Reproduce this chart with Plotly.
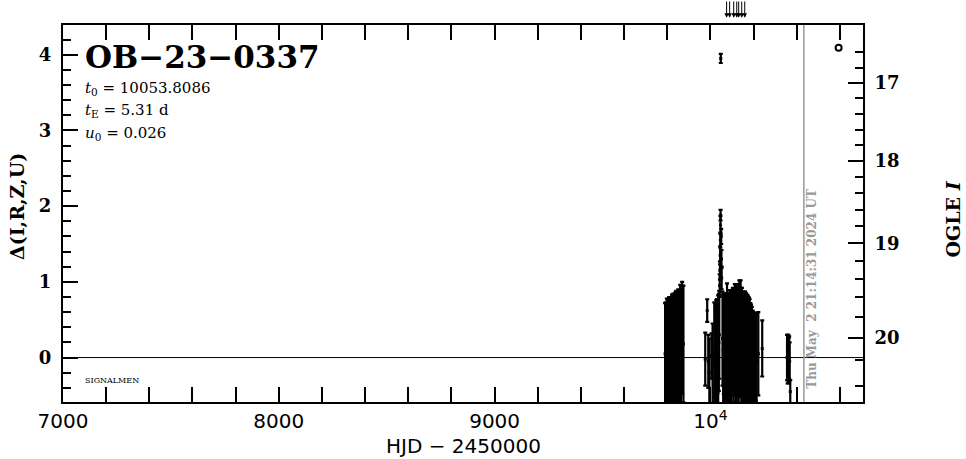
import numpy as np
import plotly.graph_objects as go

# ---------------- data ----------------
# season 2022 (cluster 1)
c1_hjd = [9790, 9793, 9795, 9798, 9801, 9803, 9806, 9809, 9811, 9814, 9817, 9819, 9822, 9825, 9827,
          9830, 9833, 9835, 9838, 9841, 9843, 9846, 9849, 9851, 9854, 9857, 9860, 9864, 9869, 9875]
c1_d = [0.05, 0.02, 0.08, 0.05, 0.10, 0.00, 0.06, 0.12, 0.02, 0.08, 0.14, 0.04, 0.10, 0.06, 0.16,
        0.03, 0.10, 0.18, 0.06, 0.12, 0.02, 0.14, 0.08, 0.20, 0.10, 0.06, 0.22, 0.16, 0.26, 0.18]
c1_e = [0.67, 0.71, 0.64, 0.73, 0.67, 0.74, 0.72, 0.68, 0.78, 0.70, 0.66, 0.76, 0.73, 0.74, 0.68,
        0.77, 0.74, 0.67, 0.80, 0.76, 0.81, 0.72, 0.78, 0.70, 0.77, 0.82, 0.74, 0.78, 0.74, 0.77]

# season 2023 (cluster 2, baseline)
c2_hjd = [9976, 9985, 9990, 9995, 10005, 10010, 10018, 10021, 10024, 10027, 10030, 10033, 10036, 10039, 10041,
          10056, 10059, 10062, 10065, 10068, 10071, 10074, 10077, 10080, 10083, 10086, 10089, 10092, 10095,
          10098, 10101, 10104, 10107, 10110, 10113, 10116, 10119, 10122, 10125, 10128, 10131, 10134, 10137,
          10140, 10143, 10146, 10149, 10152, 10155, 10158, 10161, 10164, 10167, 10170, 10173, 10176, 10179,
          10182, 10185, 10188, 10192, 10196, 10200, 10205, 10210, 10214, 10222, 10240]
c2_d = [-0.02, 0.62, -0.05, -0.20, 0.02, -0.10, 0.05, 0.10, 0.00, 0.12, 0.05, 0.15, 0.08, 0.20, 0.30,
        0.25, 0.10, 0.18, 0.05, 0.20, 0.10, 0.15, 0.30, 0.08, 0.20, 0.12, 0.25, 0.05, 0.18,
        0.10, 0.22, 0.30, 0.12, 0.20, 0.35, 0.15, 0.25, 0.10, 0.20, 0.30, 0.12, 0.35, 0.20,
        0.40, 0.15, 0.25, 0.10, 0.20, 0.08, 0.15, 0.25, 0.05, 0.12, 0.18, 0.10, 0.02, 0.15,
        0.05, 0.10, 0.00, 0.05, -0.05, 0.00, -0.10, 0.00, -0.05, 0.05, 0.12]
c2_e = [0.35, 0.15, 0.35, 0.45, 0.30, 0.55, 0.68, 0.62, 0.72, 0.64, 0.72, 0.62, 0.74, 0.64, 0.58,
        0.62, 0.72, 0.66, 0.77, 0.62, 0.74, 0.70, 0.68, 0.76, 0.64, 0.72, 0.64, 0.80, 0.68,
        0.76, 0.67, 0.62, 0.77, 0.70, 0.62, 0.74, 0.70, 0.82, 0.72, 0.67, 0.80, 0.67, 0.72,
        0.62, 0.77, 0.67, 0.77, 0.64, 0.78, 0.72, 0.62, 0.80, 0.72, 0.64, 0.72, 0.78, 0.64,
        0.72, 0.62, 0.70, 0.62, 0.67, 0.60, 0.68, 0.57, 0.64, 0.55, 0.37]

# event peak
pk_hjd = [10043, 10044, 10045, 10046, 10046.5, 10047, 10048, 10050, 10051, 10052]
pk_d = [0.95, 1.15, 1.35, 1.55, 1.75, 1.88, 3.95, 1.60, 1.30, 1.05]
pk_e = [0.15, 0.12, 0.12, 0.10, 0.12, 0.07, 0.06, 0.10, 0.12, 0.15]

# season 2024 (cluster 3)
c3_hjd = [10355, 10358, 10361, 10363, 10365, 10367, 10370]
c3_d = [0.00, -0.02, 0.02, -0.04, 0.00, -0.05, -0.45]
c3_e = [0.30, 0.32, 0.28, 0.30, 0.28, 0.25, 0.15]

# off-scale points (arrows above frame)
arrow_hjd = [10075, 10089, 10108, 10122, 10131, 10145, 10159]
# small open circle marker
circ_hjd = [10594]
circ_d = [4.09]

now_hjd = 10433
now_text = "Thu May\u00a0 2 21:14:31 2024 UT"

x_ticks = [7000, 8000, 9000, 10000]
x_ticktext = ["7000", "8000", "9000", "10<sup>4</sup>"]
mag_major = [17, 18, 19, 20]
mag_minor = [16.6, 16.8, 17.2, 17.4, 17.6, 17.8, 18.2, 18.4, 18.6, 18.8, 19.2, 19.4, 19.6, 19.8, 20.2, 20.4]

XR = [7000, 10707]
YR = [-0.587, 4.392]


def mag_to_delta(m):
    x = 10 ** (-0.4 * (np.asarray(m, dtype=float) - 20.0))
    return 2.5 * np.log10((x - 0.30) / 0.551)


# ---------------- figure ----------------
fig = go.Figure()

all_hjd = c1_hjd + c2_hjd + pk_hjd + c3_hjd
all_d = c1_d + c2_d + pk_d + c3_d
all_e = c1_e + c2_e + pk_e + c3_e

fig.add_trace(go.Scatter(
    x=all_hjd, y=all_d, mode="markers",
    marker=dict(color="black", size=3, symbol="square"),
    error_y=dict(type="data", array=all_e, color="black", thickness=2.2, width=2),
    showlegend=False, hoverinfo="skip"))

fig.add_trace(go.Scatter(
    x=circ_hjd, y=circ_d, mode="markers",
    marker=dict(color="white", size=6, symbol="circle", line=dict(color="black", width=2)),
    showlegend=False, hoverinfo="skip"))

# dummy traces for right-hand axes
fig.add_trace(go.Scatter(x=[None], y=[None], yaxis="y2", showlegend=False, hoverinfo="skip"))
fig.add_trace(go.Scatter(x=[None], y=[None], yaxis="y3", showlegend=False, hoverinfo="skip"))

fig.add_hline(y=0, line=dict(color="black", width=1))
fig.add_vline(x=now_hjd, line=dict(color="#999999", width=1.5))

for xa in arrow_hjd:
    fig.add_annotation(x=xa, y=1.019, xref="x", yref="paper", text="", showarrow=True,
                       ax=0, ay=-18, arrowhead=2, arrowsize=0.9, arrowwidth=1, arrowcolor="black")

tick_font_serif = dict(family="DejaVu Serif", size=18, color="black", weight="bold")

fig.update_layout(
    width=966, height=459,
    margin=dict(l=63, r=103, t=25, b=57),
    paper_bgcolor="white", plot_bgcolor="white",
    xaxis=dict(range=XR, tickmode="array", tickvals=x_ticks, ticktext=x_ticktext,
               ticks="inside", ticklen=15, tickwidth=2, tickcolor="black",
               minor=dict(tickmode="linear", tick0=7000, dtick=200, ticks="inside", ticklen=8,
                          tickwidth=2, tickcolor="black", showgrid=False),
               showline=True, linewidth=2, linecolor="black", mirror="allticks",
               showgrid=False, zeroline=False, ticklabelstandoff=0, automargin=False,
               tickfont=dict(family="DejaVu Sans", size=20, color="black")),
    yaxis=dict(range=YR, tickmode="linear", tick0=0, dtick=1,
               ticks="inside", ticklen=15, tickwidth=2, tickcolor="black",
               minor=dict(tickmode="linear", tick0=0, dtick=0.2, ticks="inside", ticklen=8,
                          tickwidth=2, tickcolor="black", showgrid=False),
               showline=True, linewidth=2, linecolor="black", mirror=False,
               showgrid=False, zeroline=False, ticklabelstandoff=6, automargin=False,
               tickfont=tick_font_serif),
    yaxis2=dict(range=YR, overlaying="y", side="right", anchor="x",
                tickmode="array", tickvals=list(mag_to_delta(mag_major)),
                ticktext=[str(m) for m in mag_major],
                ticks="inside", ticklen=15, tickwidth=2, tickcolor="black",
                showline=True, linewidth=2, linecolor="black",
                showgrid=False, zeroline=False, ticklabelstandoff=6, automargin=False,
                tickfont=tick_font_serif),
    yaxis3=dict(range=YR, overlaying="y", side="right", anchor="x",
                tickmode="array", tickvals=list(mag_to_delta(mag_minor)),
                ticks="inside", ticklen=8, tickwidth=2, tickcolor="black", automargin=False,
                showticklabels=False, showline=False, showgrid=False, zeroline=False),
)

# texts
fig.add_annotation(x=0.025, y=0.916, xref="paper", yref="paper", xanchor="left", yanchor="middle",
                   text="OB\u221223\u22120337", showarrow=False,
                   font=dict(family="DejaVu Serif", size=31, color="black", weight="bold"))
params = ["<i>t</i><sub>0</sub> = 10053.8086", "<i>t</i><sub>E</sub> = 5.31 d", "<i>u</i><sub>0</sub> = 0.026"]
for txt, yy in zip(params, [0.831, 0.773, 0.712]):
    fig.add_annotation(x=0.025, y=yy, xref="paper", yref="paper", xanchor="left", yanchor="middle",
                       text=txt, showarrow=False,
                       font=dict(family="DejaVu Serif", size=15, color="black"))
fig.add_annotation(x=0.025, y=0.058, xref="paper", yref="paper", xanchor="left", yanchor="middle",
                   text="SIGNALMEN", showarrow=False,
                   font=dict(family="DejaVu Serif", size=8, color="black"))
fig.add_annotation(x=now_hjd, y=0.30, xref="x", yref="paper", xshift=8, xanchor="center", yanchor="middle",
                   text=now_text, textangle=-90, showarrow=False,
                   font=dict(family="DejaVu Serif", size=12, color="#999999", weight="bold"))

fig.add_annotation(x=0.5, y=-0.118, xref="paper", yref="paper", xanchor="center", yanchor="middle",
                   text="HJD \u2212 2450000", showarrow=False,
                   font=dict(family="DejaVu Sans", size=20, color="black"))
fig.add_annotation(x=-0.0575, y=0.517, xref="paper", yref="paper", xanchor="center", yanchor="middle",
                   text="\u0394(I,R,Z,U)", textangle=-90, showarrow=False,
                   font=dict(family="DejaVu Serif", size=19, color="black", weight="bold"))
fig.add_annotation(x=1.113, y=0.485, xref="paper", yref="paper", xanchor="center", yanchor="middle",
                   text="OGLE <i>I</i>", textangle=-90, showarrow=False,
                   font=dict(family="DejaVu Serif", size=19, color="black", weight="bold"))

fig.write_html("out.html", config={"displayModeBar": False},
               post_script="document.body.style.margin='0';")
